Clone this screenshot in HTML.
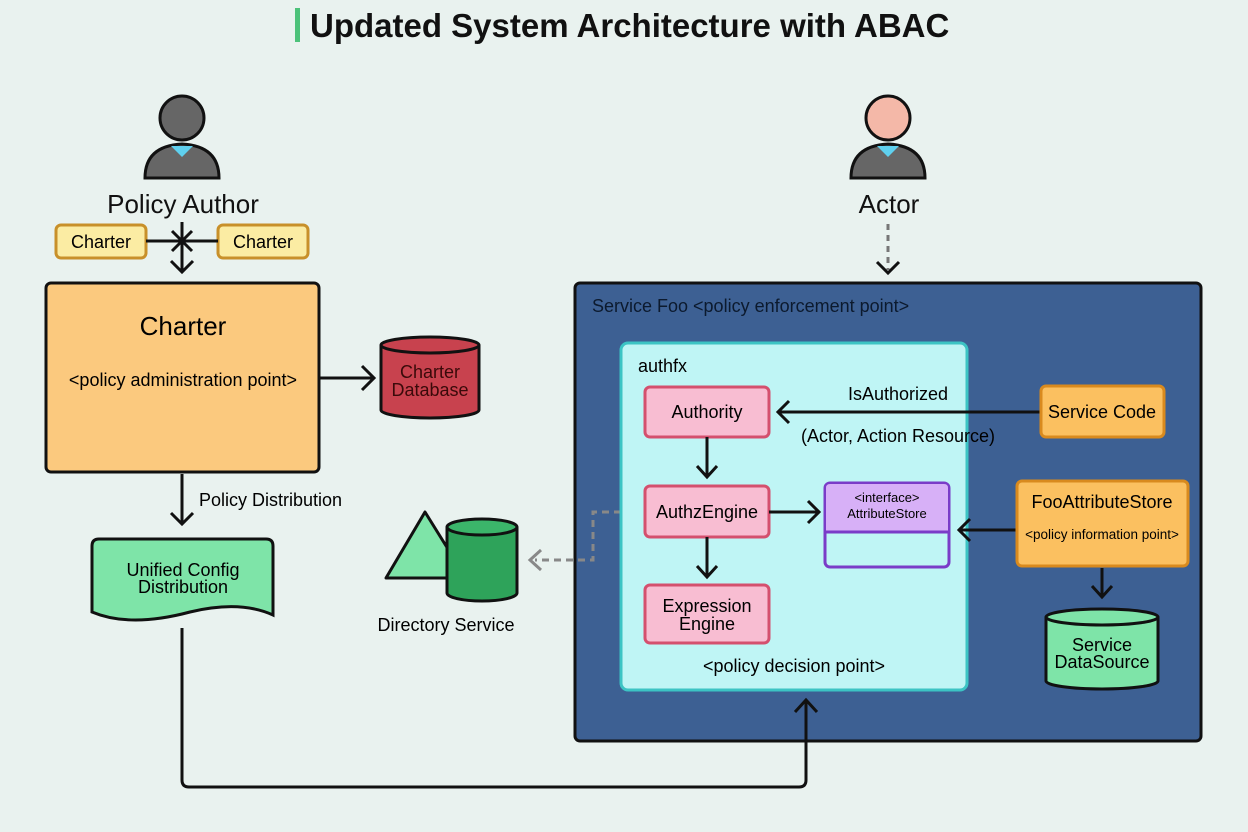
<!DOCTYPE html>
<html><head><meta charset="utf-8"><style>
html,body{margin:0;padding:0;background:#e9f2ef;}
svg{display:block;font-family:"Liberation Sans",sans-serif;}
</style></head><body>
<svg width="1248" height="832" viewBox="0 0 1248 832" xmlns="http://www.w3.org/2000/svg">
<rect width="1248" height="832" fill="#e9f2ef"/>
<rect x="295" y="8" width="5" height="34" fill="#4cc27a"/>
<text x="310" y="37" font-size="33" font-weight="bold" fill="#111">Updated System Architecture with ABAC</text>

<g stroke="#111" stroke-width="3">
<circle cx="182" cy="118" r="22" fill="#666"/>
<path d="M145,178 Q145,146 182,144 Q219,146 219,178 Z" fill="#666"/>
<circle cx="888" cy="118" r="22" fill="#f4b8a8"/>
<path d="M851,178 Q851,146 888,144 Q925,146 925,178 Z" fill="#666"/>
</g>
<path d="M171,146 L182,157 L193,146 Z" fill="#5fd0ee"/>
<path d="M877,146 L888,157 L899,146 Z" fill="#5fd0ee"/>
<text x="183" y="213" font-size="26" text-anchor="middle" fill="#111">Policy Author</text>
<text x="889" y="213" font-size="26" text-anchor="middle" fill="#111">Actor</text>

<rect x="56" y="225" width="90" height="33" rx="5" fill="#fbeca3" stroke="#c8902a" stroke-width="3"/>
<text x="101" y="248" font-size="18" text-anchor="middle">Charter</text>
<rect x="218" y="225" width="90" height="33" rx="5" fill="#fbeca3" stroke="#c8902a" stroke-width="3"/>
<text x="263" y="248" font-size="18" text-anchor="middle">Charter</text>
<g stroke="#111" stroke-width="3" fill="none">
<line x1="146" y1="241" x2="218" y2="241"/>
<line x1="182" y1="222" x2="182" y2="272"/>
<line x1="172" y1="231" x2="192" y2="251"/><line x1="192" y1="231" x2="172" y2="251"/>
<polyline points="171,261 182,272 193,261"/>
</g>

<rect x="46" y="283" width="273" height="189" rx="5" fill="#fbc97e" stroke="#111" stroke-width="3"/>
<text x="183" y="335" font-size="26" text-anchor="middle">Charter</text>
<text x="183" y="386" font-size="18" text-anchor="middle">&lt;policy administration point&gt;</text>
<g stroke="#111" stroke-width="3" fill="none">
<line x1="320" y1="378" x2="372" y2="378"/><polyline points="362,366 374,378 362,390"/>
</g>
<path d="M381,345 L381,410 A49,8 0 0 0 479,410 L479,345" fill="#c8424e" stroke="#111" stroke-width="3"/>
<ellipse cx="430" cy="345" rx="49" ry="8" fill="#c8424e" stroke="#111" stroke-width="3"/>
<text x="430" y="378" font-size="18" text-anchor="middle" fill="#3a0a0a">Charter</text>
<text x="430" y="396" font-size="18" text-anchor="middle" fill="#3a0a0a">Database</text>

<g stroke="#111" stroke-width="3" fill="none">
<line x1="182" y1="474" x2="182" y2="524"/><polyline points="171,513 182,524 193,513"/>
</g>
<text x="199" y="506" font-size="18">Policy Distribution</text>
<path d="M92,546 Q92,539 99,539 L266,539 Q273,539 273,546 L273,615 Q240,600 190,612 Q130,628 92,612 Z" fill="#7ee4a8" stroke="#111" stroke-width="3"/>
<text x="183" y="576" font-size="18" text-anchor="middle">Unified Config</text>
<text x="183" y="593" font-size="18" text-anchor="middle">Distribution</text>

<path d="M425,512 L466,578 L386,578 Z" fill="#7ee4a8" stroke="#111" stroke-width="3" stroke-linejoin="round"/>
<path d="M447,527 L447,593 A35,8 0 0 0 517,593 L517,527" fill="#2ea35a" stroke="#111" stroke-width="3"/>
<ellipse cx="482" cy="527" rx="35" ry="8" fill="#3bb56a" stroke="#111" stroke-width="3"/>
<text x="446" y="631" font-size="18" text-anchor="middle">Directory Service</text>

<line x1="888" y1="224" x2="888" y2="270" stroke="#777" stroke-width="3" stroke-dasharray="6,5"/>
<polyline points="877,262 888,273 899,262" stroke="#111" stroke-width="3" fill="none"/>

<rect x="575" y="283" width="626" height="458" rx="5" fill="#3d6093" stroke="#111" stroke-width="3"/>
<text x="592" y="312" font-size="18" fill="#0c1a2e">Service Foo  &lt;policy enforcement point&gt;</text>

<path d="M645,512 L593,512 L593,560 L535,560" stroke="#888" stroke-width="3" fill="none" stroke-dasharray="7,5"/>
<polyline points="541,550 530,560 541,570" stroke="#888" stroke-width="3" fill="none"/>

<rect x="621" y="343" width="346" height="347" rx="7" fill="#bff5f5" stroke="#3cc4c4" stroke-width="3"/>
<text x="638" y="372" font-size="18">authfx</text>

<g stroke="#111" stroke-width="3" fill="none">
<path d="M182,628 L182,780 Q182,787 189,787 L799,787 Q806,787 806,780 L806,700"/>
<polyline points="795,712 806,700 817,712"/>
</g>

<g fill="#f8bdd2" stroke="#d4506e" stroke-width="3">
<rect x="645" y="387" width="124" height="50" rx="5"/>
<rect x="645" y="486" width="124" height="51" rx="5"/>
<rect x="645" y="585" width="124" height="58" rx="5"/>
</g>
<text x="707" y="418" font-size="18" text-anchor="middle">Authority</text>
<text x="707" y="518" font-size="18" text-anchor="middle">AuthzEngine</text>
<text x="707" y="612" font-size="18" text-anchor="middle">Expression</text>
<text x="707" y="630" font-size="18" text-anchor="middle">Engine</text>
<text x="794" y="672" font-size="18" text-anchor="middle">&lt;policy decision point&gt;</text>

<g stroke="#111" stroke-width="3" fill="none">
<line x1="707" y1="437" x2="707" y2="476"/><polyline points="697,466 707,477 717,466"/>
<line x1="707" y1="537" x2="707" y2="576"/><polyline points="697,566 707,577 717,566"/>
<line x1="769" y1="512" x2="818" y2="512"/><polyline points="808,501 819,512 808,523"/>
<line x1="1042" y1="412" x2="779" y2="412"/><polyline points="789,401 778,412 789,423"/>
<line x1="1016" y1="530" x2="960" y2="530"/><polyline points="970,519 959,530 970,541"/>
<line x1="1102" y1="568" x2="1102" y2="596"/><polyline points="1092,586 1102,597 1112,586"/>
</g>
<text x="898" y="400" font-size="18" text-anchor="middle">IsAuthorized</text>
<text x="898" y="442" font-size="18" text-anchor="middle">(Actor, Action Resource)</text>

<rect x="825" y="483" width="124" height="84" rx="5" fill="#bff5f5" stroke="#7a3cc8" stroke-width="3"/>
<path d="M826,532 L826,488 Q826,484 830,484 L944,484 Q948,484 948,488 L948,532 Z" fill="#d7b0f7"/>
<line x1="825" y1="532" x2="949" y2="532" stroke="#7a3cc8" stroke-width="3"/>
<text x="887" y="502" font-size="13" text-anchor="middle">&lt;interface&gt;</text>
<text x="887" y="518" font-size="13" text-anchor="middle">AttributeStore</text>

<rect x="1041" y="386" width="123" height="51" rx="5" fill="#fbc060" stroke="#d98a1e" stroke-width="3"/>
<text x="1102" y="418" font-size="18" text-anchor="middle">Service Code</text>
<rect x="1017" y="481" width="171" height="85" rx="5" fill="#fbc060" stroke="#d98a1e" stroke-width="3"/>
<text x="1102" y="508" font-size="18" text-anchor="middle">FooAttributeStore</text>
<text x="1102" y="539" font-size="13.5" text-anchor="middle">&lt;policy information point&gt;</text>

<path d="M1046,617 L1046,681 A56,8 0 0 0 1158,681 L1158,617" fill="#7ee4a8" stroke="#111" stroke-width="3"/>
<ellipse cx="1102" cy="617" rx="56" ry="8" fill="#7ee4a8" stroke="#111" stroke-width="3"/>
<text x="1102" y="651" font-size="18" text-anchor="middle">Service</text>
<text x="1102" y="668" font-size="18" text-anchor="middle">DataSource</text>
</svg>
</body></html>
